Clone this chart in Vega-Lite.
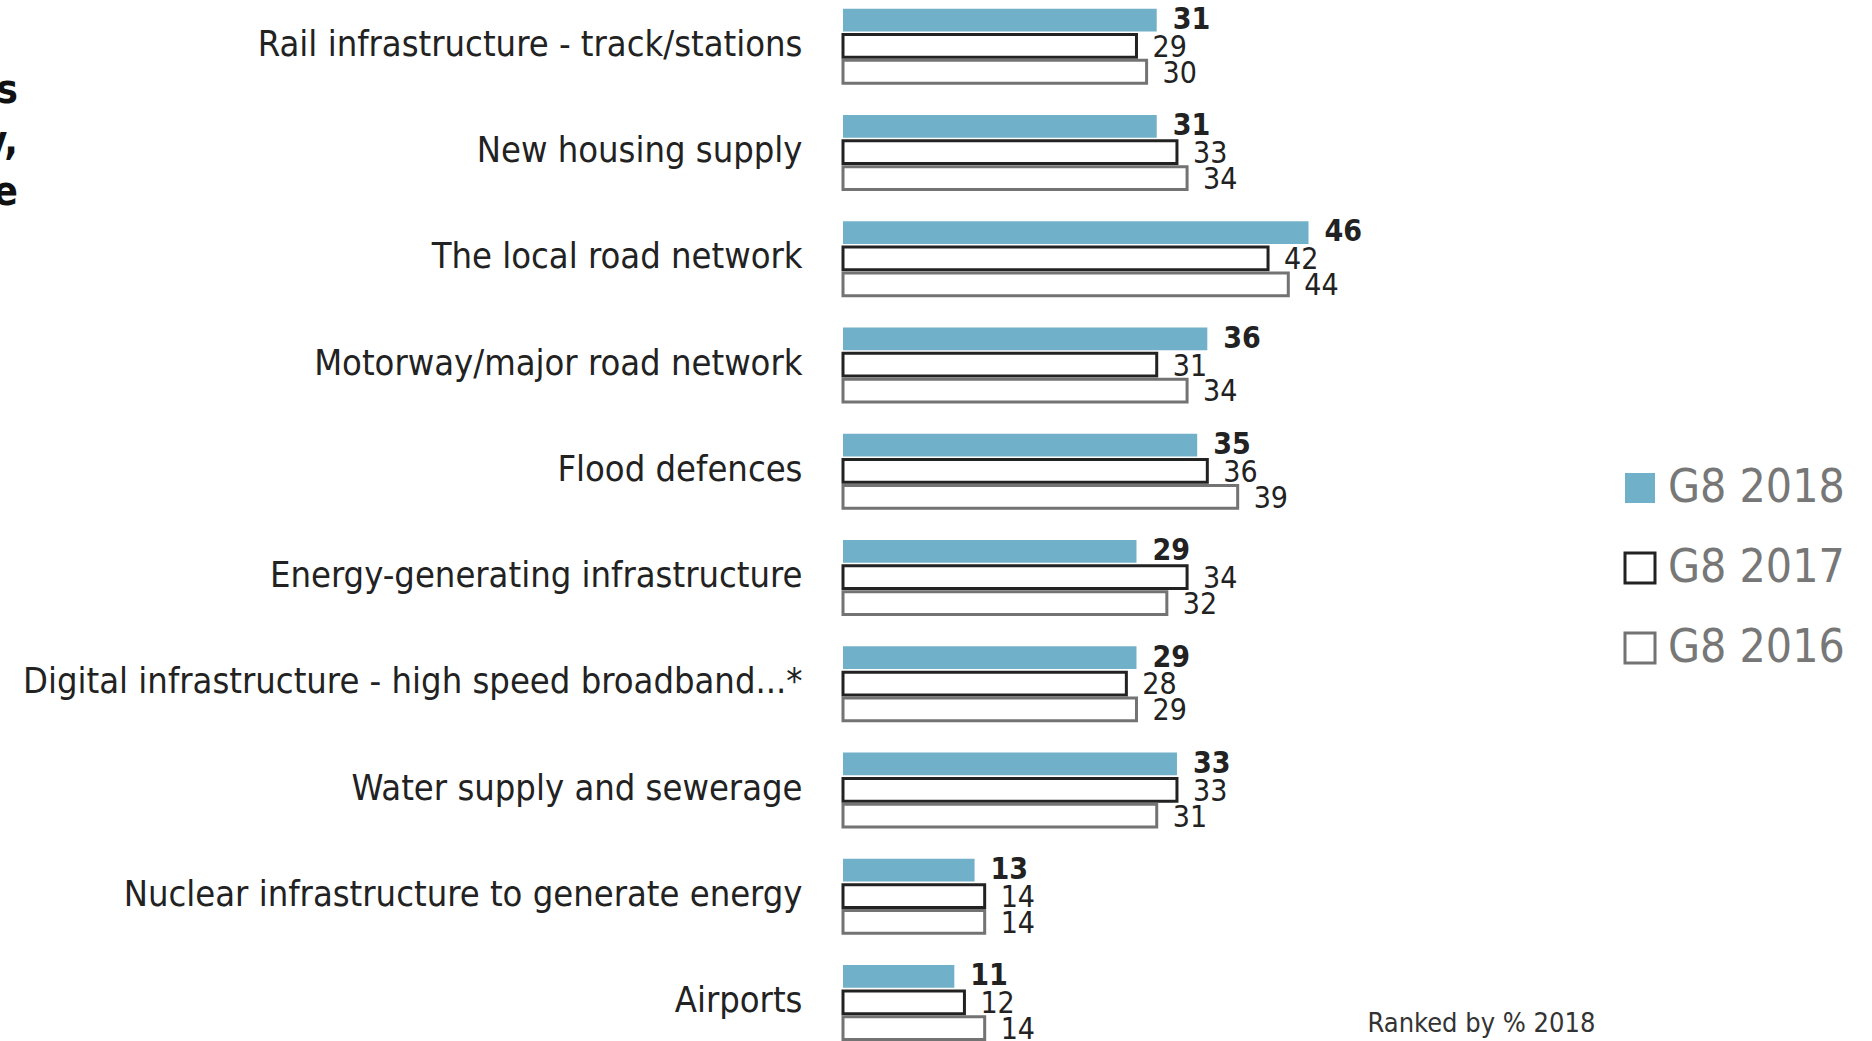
{
  "$schema": "https://vega.github.io/schema/vega-lite/v6.json",
  "autosize": "none",
  "width": 506,
  "height": 1034,
  "padding": {"left": 843, "top": 4, "right": 523, "bottom": 3},
  "background": "white",
  "config": {"view": {"stroke": null}, "font": "DejaVu Sans Condensed, Roboto"},
  "title": {
    "text": ["s", "y,", "e"],
    "anchor": "start",
    "align": "right",
    "frame": "group",
    "orient": "top",
    "dx": -825,
    "dy": 213,
    "fontSize": 40,
    "fontWeight": "bold",
    "color": "#111",
    "lineHeight": 51,
    "font": "DejaVu Sans Condensed, Roboto"
  },
  "data": {
    "values": [
      {"category": "Rail infrastructure - track/stations", "series": "G8 2018", "value": 31},
      {"category": "Rail infrastructure - track/stations", "series": "G8 2017", "value": 29},
      {"category": "Rail infrastructure - track/stations", "series": "G8 2016", "value": 30},
      {"category": "New housing supply", "series": "G8 2018", "value": 31},
      {"category": "New housing supply", "series": "G8 2017", "value": 33},
      {"category": "New housing supply", "series": "G8 2016", "value": 34},
      {"category": "The local road network", "series": "G8 2018", "value": 46},
      {"category": "The local road network", "series": "G8 2017", "value": 42},
      {"category": "The local road network", "series": "G8 2016", "value": 44},
      {"category": "Motorway/major road network", "series": "G8 2018", "value": 36},
      {"category": "Motorway/major road network", "series": "G8 2017", "value": 31},
      {"category": "Motorway/major road network", "series": "G8 2016", "value": 34},
      {"category": "Flood defences", "series": "G8 2018", "value": 35},
      {"category": "Flood defences", "series": "G8 2017", "value": 36},
      {"category": "Flood defences", "series": "G8 2016", "value": 39},
      {"category": "Energy-generating infrastructure", "series": "G8 2018", "value": 29},
      {"category": "Energy-generating infrastructure", "series": "G8 2017", "value": 34},
      {"category": "Energy-generating infrastructure", "series": "G8 2016", "value": 32},
      {"category": "Digital infrastructure - high speed broadband...*", "series": "G8 2018", "value": 29},
      {"category": "Digital infrastructure - high speed broadband...*", "series": "G8 2017", "value": 28},
      {"category": "Digital infrastructure - high speed broadband...*", "series": "G8 2016", "value": 29},
      {"category": "Water supply and sewerage", "series": "G8 2018", "value": 33},
      {"category": "Water supply and sewerage", "series": "G8 2017", "value": 33},
      {"category": "Water supply and sewerage", "series": "G8 2016", "value": 31},
      {"category": "Nuclear infrastructure to generate energy", "series": "G8 2018", "value": 13},
      {"category": "Nuclear infrastructure to generate energy", "series": "G8 2017", "value": 14},
      {"category": "Nuclear infrastructure to generate energy", "series": "G8 2016", "value": 14},
      {"category": "Airports", "series": "G8 2018", "value": 11},
      {"category": "Airports", "series": "G8 2017", "value": 12},
      {"category": "Airports", "series": "G8 2016", "value": 14}
    ]
  },
  "encoding": {
    "y": {
      "field": "category",
      "type": "nominal",
      "sort": null,
      "scale": {"paddingInner": 0.27, "paddingOuter": 0},
      "axis": {
        "title": null,
        "domain": false,
        "ticks": false,
        "labelFontSize": 36,
        "labelColor": "#222",
        "labelPadding": 41,
        "labelOffset": 2,
        "labelLimit": 0,
        "labelFont": "DejaVu Sans Condensed, Roboto"
      }
    },
    "yOffset": {
      "field": "series",
      "type": "nominal",
      "sort": ["G8 2018", "G8 2017", "G8 2016"],
      "scale": {"paddingInner": 0, "paddingOuter": 0}
    },
    "x": {
      "field": "value",
      "type": "quantitative",
      "scale": {"domain": [0, 50]},
      "axis": {
        "labels": false,
        "ticks": false,
        "domain": false,
        "grid": false,
        "title": "Ranked by % 2018",
        "titleFontSize": 27,
        "titleFontWeight": "normal",
        "titleColor": "#333",
        "titleAnchor": "start",
        "titleAlign": "left",
        "titleBaseline": "alphabetic",
        "titleX": 524,
        "titleY": -7,
        "titleFont": "DejaVu Sans Condensed, Roboto"
      }
    }
  },
  "layer": [
    {
      "mark": {"type": "bar", "strokeWidth": 3, "height": {"band": 0.88}},
      "encoding": {
        "fill": {
          "field": "series",
          "type": "nominal",
          "sort": ["G8 2018", "G8 2017", "G8 2016"],
          "scale": {"domain": ["G8 2018", "G8 2017", "G8 2016"], "range": ["#70B0C8", "#ffffff", "#ffffff"]},
          "legend": {
            "title": null,
            "orient": "none",
            "legendX": 774,
            "legendY": 461,
            "padding": 0,
            "symbolType": "square",
            "symbolSize": 900,
            "symbolStrokeWidth": 3,
            "labelFontSize": 46,
            "labelLimit": 0,
            "labelColor": "#777",
            "labelFont": "DejaVu Sans Condensed, Roboto",
            "labelOffset": 5,
            "rowPadding": 34
          }
        },
        "stroke": {
          "field": "series",
          "type": "nominal",
          "sort": ["G8 2018", "G8 2017", "G8 2016"],
          "scale": {"domain": ["G8 2018", "G8 2017", "G8 2016"], "range": ["transparent", "#222222", "#737373"]}
        }
      }
    },
    {
      "transform": [{"filter": "datum.series === 'G8 2018'"}],
      "mark": {"type": "text", "align": "left", "baseline": "middle", "dx": 16, "dy": 3, "fontSize": 30, "fontWeight": "bold", "color": "#222"},
      "encoding": {"text": {"field": "value", "type": "quantitative"}}
    },
    {
      "transform": [{"filter": "datum.series !== 'G8 2018'"}],
      "mark": {"type": "text", "align": "left", "baseline": "middle", "dx": 16, "dy": 5, "fontSize": 30, "color": "#222"},
      "encoding": {"text": {"field": "value", "type": "quantitative"}}
    }
  ]
}
